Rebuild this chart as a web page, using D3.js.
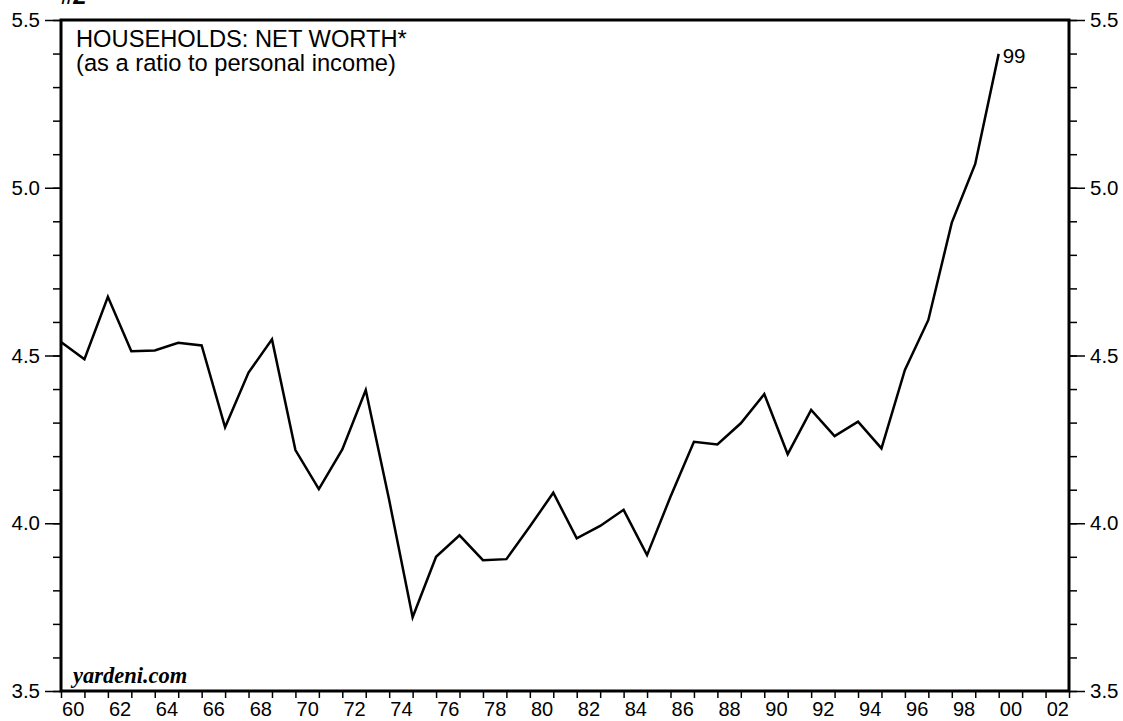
<!DOCTYPE html>
<html>
<head>
<meta charset="utf-8">
<script src="https://cdn.jsdelivr.net/npm/d3@7"></script>
<style>
  body { margin: 0; background: #fff; }
  svg { display: block; font-family: "Liberation Sans", Arial, sans-serif; }
</style>
</head>
<body>
<svg width="1123" height="721"></svg>
<script>
// Year-end values, 1959..1999
const years = d3.range(1959, 2000);
const netWorth = [
  4.540, 4.489, 4.675, 4.513, 4.515, 4.538, 4.530, 4.286, 4.449, 4.548,
  4.218, 4.102, 4.220, 4.397, 4.069, 3.720, 3.900, 3.964, 3.890, 3.893,
  3.990, 4.091, 3.955, 3.992, 4.040, 3.905, 4.079, 4.243, 4.235, 4.298,
  4.385, 4.206, 4.338, 4.260, 4.303, 4.223, 4.457, 4.606, 4.896, 5.071,
  5.399
];
const yMajor = [3.5, 4.0, 4.5, 5.0, 5.5];
const xLabelYears = d3.range(1960, 2003, 2);
const titleLines = ['HOUSEHOLDS: NET WORTH*', '(as a ratio to personal income)'];

const data = years.map((yr, i) => ({ year: yr, value: netWorth[i] }));

const svg = d3.select('svg');
const margin = { top: 20, right: 54, bottom: 30, left: 61 };
const width = 1123 - margin.left - margin.right;
const height = 721 - margin.top - margin.bottom;
const tickFont = 20.5;

const g = svg.append('g')
  .attr('transform', 'translate(' + margin.left + ',' + margin.top + ')');

const x = d3.scaleLinear().domain([1960, 2003]).range([0, width]);
const y = d3.scaleLinear().domain([3.5, 5.5]).range([height, 0]);

const minorY = d3.range(35, 56).map((v) => v / 10);

// Axes
function styleAxis(sel, size) {
  sel.select('.domain').remove();
  sel.selectAll('line').attr('stroke', '#000').attr('stroke-width', 1.5);
  sel.selectAll('text').attr('font-size', size || tickFont).attr('fill', '#000')
    .attr('font-family', '"Liberation Sans", Arial, sans-serif');
}

g.append('g')
  .call(d3.axisLeft(y).tickValues(minorY).tickSize(8).tickFormat(''))
  .call(styleAxis);
g.append('g')
  .call(d3.axisLeft(y).tickValues(yMajor).tickSize(16).tickPadding(5).tickFormat(d3.format('.1f')))
  .call(styleAxis);

g.append('g')
  .attr('transform', 'translate(' + width + ',0)')
  .call(d3.axisRight(y).tickValues(minorY).tickSize(8).tickFormat(''))
  .call(styleAxis);
g.append('g')
  .attr('transform', 'translate(' + width + ',0)')
  .call(d3.axisRight(y).tickValues(yMajor).tickSize(16).tickPadding(5).tickFormat(d3.format('.1f')))
  .call(styleAxis);

g.append('g')
  .attr('transform', 'translate(0,' + height + ')')
  .call(d3.axisBottom(x).tickValues(d3.range(1960, 2004)).tickSize(7).tickFormat(''))
  .call(styleAxis);
g.append('g')
  .attr('transform', 'translate(0,' + height + ')')
  .call(d3.axisBottom(x).tickValues(xLabelYears.map((d) => d + 0.5)).tickSize(0).tickPadding(11)
    .tickFormat((d) => d3.format('02')(Math.floor(d) % 100)))
  .call((sel) => styleAxis(sel, 20));

// Frame
g.append('rect')
  .attr('width', width)
  .attr('height', height)
  .attr('fill', 'none')
  .attr('stroke', '#000')
  .attr('stroke-width', 3);

// Line
const line = d3.line()
  .x((d) => x(d.year + 1))
  .y((d) => y(d.value));

g.append('path')
  .datum(data)
  .attr('fill', 'none')
  .attr('stroke', '#000')
  .attr('stroke-width', 2.5)
  .attr('stroke-linejoin', 'miter')
  .attr('d', line);

// Last point label
const last = data[data.length - 1];
g.append('text')
  .attr('x', x(last.year + 1) + 4)
  .attr('y', y(last.value) + 9)
  .attr('font-size', tickFont)
  .text(String(last.year).slice(2));

// Title
g.selectAll('.title')
  .data(titleLines)
  .enter()
  .append('text')
  .attr('class', 'title')
  .attr('x', 15)
  .attr('y', (d, i) => 27 + i * 24)
  .attr('font-size', 23.7)
  .text((d) => d);

// Source
g.append('text')
  .attr('x', 12)
  .attr('y', height - 8)
  .attr('font-family', '"Liberation Serif", "Times New Roman", serif')
  .attr('font-weight', 'bold')
  .attr('font-style', 'italic')
  .attr('font-size', 22.5)
  .text('yardeni.com');

// Chart number, cut at top edge as in the original
svg.append('text')
  .attr('x', 60)
  .attr('y', 4)
  .attr('font-weight', 'bold')
  .attr('font-style', 'italic')
  .attr('font-size', 24)
  .text('#2');
</script>
</body>
</html>
